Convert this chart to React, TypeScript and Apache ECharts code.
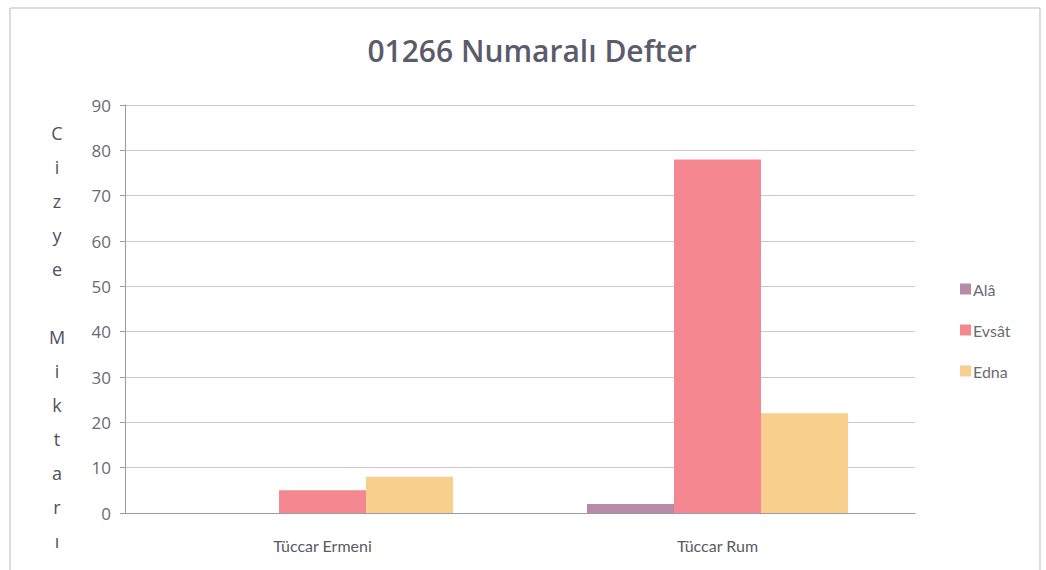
import React, { useEffect, useRef } from "react";
import * as echarts from "echarts";

const categories = ["Tüccar Ermeni", "Tüccar Rum"];
const seriesNames = ["Alâ", "Evsât", "Edna"];
const alaValues = [0, 2];
const evsatValues = [5, 78];
const ednaValues = [8, 22];
const colors = ["#b68ba8", "#f4878f", "#f8cf8c"];
const yTicks = [0, 10, 20, 30, 40, 50, 60, 70, 80, 90];
const axisTitle = "C\ni\nz\ny\ne\n\nM\ni\nk\nt\na\nr\nı";

export default function App() {
  const ref = useRef<HTMLDivElement>(null);
  useEffect(() => {
    const chart = echarts.init(ref.current!, null, { renderer: "svg" });
    const values = [alaValues, evsatValues, ednaValues];
    chart.setOption({
      animation: false,
      backgroundColor: "#ffffff",
      title: {
        text: "01266 Numaralı Defter",
        left: 527,
        textAlign: "center",
        top: 30,
        textStyle: { fontFamily: "Open Sans", fontSize: 30, fontWeight: 600, color: "#5b5b6b" },
      },
      legend: {
        orient: "vertical",
        left: 955,
        top: 276,
        itemGap: 25,
        itemWidth: 11,
        itemHeight: 11,
        icon: "rect",
        data: seriesNames,
        textStyle: { fontFamily: "Lato", fontSize: 16, color: "#6a6a74", padding: [0, 0, 0, -3] },
      },
      grid: { left: 125, right: 131, top: 105, bottom: 57, containLabel: false },
      graphic: [
        {
          type: "rect",
          shape: { x: 10, y: 8, width: 1030, height: 600 },
          style: { fill: "none", stroke: "#b8b8c4", lineWidth: 1 },
          silent: true,
        },
        {
          type: "text",
          x: 57,
          y: 116,
          style: {
            text: axisTitle,
            fontFamily: "Open Sans",
            fontSize: 18,
            lineHeight: 34,
            fill: "#50505c",
            align: "center",
          },
        },
      ],
      xAxis: {
        type: "category",
        data: categories,
        axisLine: { lineStyle: { color: "#9a9aa6" } },
        axisTick: { show: false },
        axisLabel: { fontFamily: "Lato", fontSize: 16, color: "#5a5a64", margin: 24 },
      },
      yAxis: {
        type: "value",
        min: 0,
        max: 90,
        interval: 10,
        axisLine: { show: true, lineStyle: { color: "#9a9aa6" } },
        axisTick: { show: true, length: 5, lineStyle: { color: "#9a9aa6" } },
        axisLabel: {
          fontFamily: "Open Sans",
          fontSize: 17,
          color: "#6a6a74",
          margin: 14,
          formatter: (v: number) => (yTicks.includes(v) ? String(v) : ""),
        },
        splitLine: { lineStyle: { color: "#c9c9d6" } },
      },
      series: seriesNames.map((name, i) => ({
        name,
        type: "bar",
        data: values[i],
        barWidth: 87,
        barGap: "0%",
        itemStyle: { color: colors[i] },
      })),
    });
    return () => chart.dispose();
  }, []);
  return (
    <div
      ref={ref}
      style={{ position: "fixed", left: 0, top: 0, width: 1046, height: 570 }}
    />
  );
}
